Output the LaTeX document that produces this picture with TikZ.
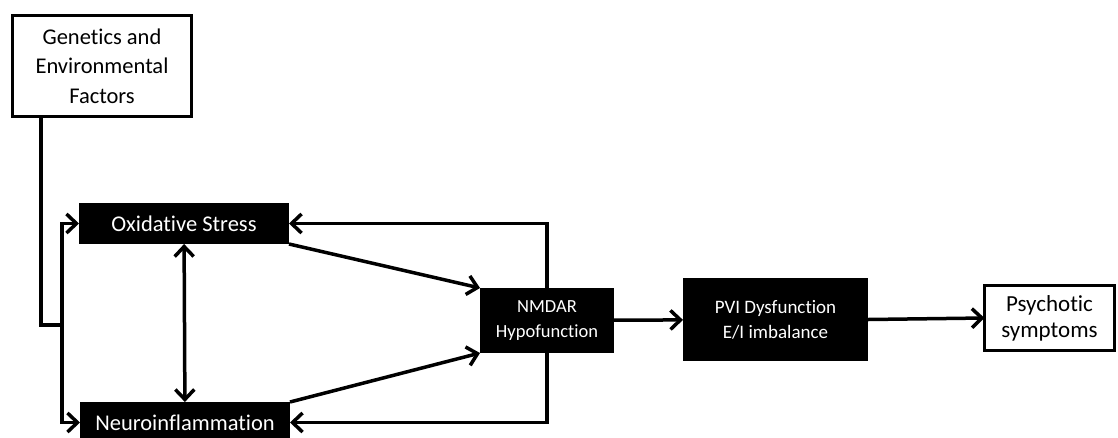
\documentclass[tikz,border=0pt]{standalone}
\usepackage{fontspec}
\setmainfont[Ligatures=NoCommon]{Carlito}
\usetikzlibrary{arrows.meta}

\tikzset{
  darkbox/.style={fill=black, text=white, inner sep=0pt, outer sep=0pt, align=center},
  lightbox/.style={draw=black, line width=3.5pt, fill=white, inner sep=0pt, outer sep=0pt, align=center},
  wire/.style={line width=3.5pt},
  link/.style={wire, -{Straight Barb[length=10pt,width=19pt]}},
  twoway/.style={wire, {Straight Barb[length=10pt,width=19pt]}-{Straight Barb[length=10pt,width=19pt]}},
}

\begin{document}
\begin{tikzpicture}[x=1pt, y=-1pt]
    \useasboundingbox (0,0) rectangle (1118,437);

    \node[lightbox, minimum width=179pt, minimum height=101pt, font=\fontsize{22.5}{29.5}\selectfont] (gen) at (102,66) {Genetics and\\Environmental\\Factors};
    \node[darkbox, minimum width=210pt, minimum height=41pt, font=\fontsize{22.5}{27}\selectfont] (ox) at (184,223.5) {Oxidative Stress};
    \node[darkbox, minimum width=210pt, minimum height=41pt, font=\fontsize{22.5}{27}\selectfont] (neuro) at (185,422.5) {Neuroinflammation};
    \node[darkbox, minimum width=134pt, minimum height=65pt, font=\fontsize{18.5}{25}\selectfont] (nmdar) at (547,320.5) {NMDAR\\Hypofunction};
    \node[darkbox, minimum width=185pt, minimum height=83pt, font=\fontsize{19}{25}\selectfont] (pvi) at (775.5,319.5) {PVI Dysfunction\\E/I imbalance};
    \node[lightbox, minimum width=130pt, minimum height=65pt, font=\fontsize{23}{26}\selectfont] (psych) at (1049.5,318) {Psychotic\\symptoms};

    \coordinate (drop) at (41,117);
    \coordinate (split) at (62,325);

    \draw [wire] (drop) |- (split);
    \draw [link] (split) |- (ox.west);
    \draw [link] (split) |- (neuro.west);
    \draw [twoway] (ox) to (neuro);
    \draw [link] (ox.south east) to (nmdar.north west);
    \draw [link] (neuro.north east) to (nmdar.south west);
    \draw [link] (nmdar.north) |- (ox.east);
    \draw [link] (nmdar.south) |- (neuro.east);
    \draw [link] (nmdar) to (pvi);
    \draw [link] (pvi.east) to (psych.west);

\end{tikzpicture}
\end{document}
